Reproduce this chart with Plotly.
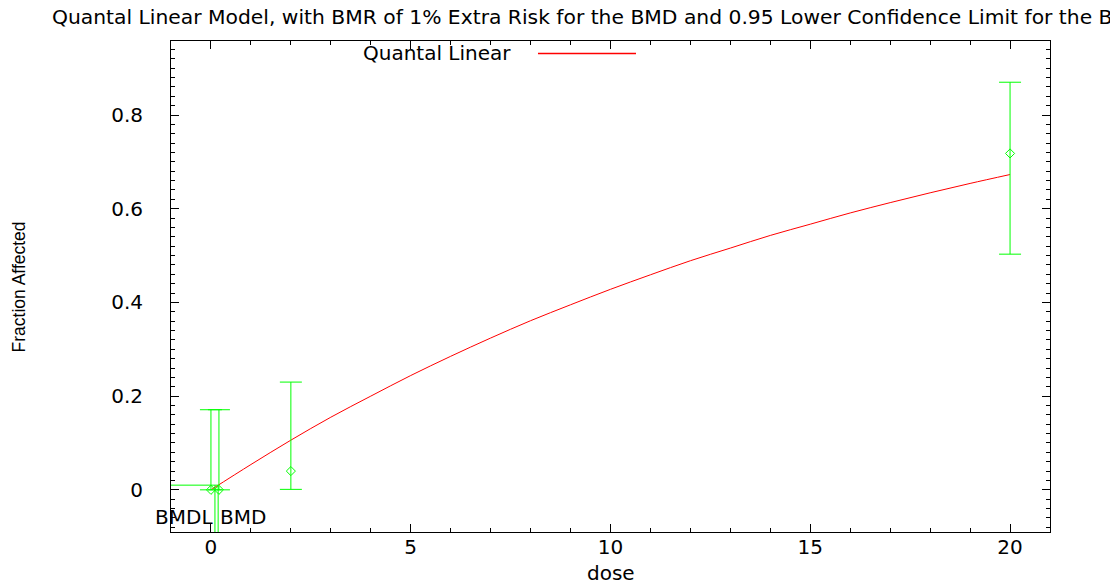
import plotly.graph_objects as go

dose = [0, 0.2, 2, 20]
frac = [0.0, 0.0, 0.04, 0.718]
ci_upper = [0.171, 0.171, 0.230, 0.870]
ci_lower = [0.0, 0.0, 0.001, 0.503]

# Fitted Quantal Linear curve
curve_dose = list(range(0, 21))
curve_frac = [0.0, 0.054, 0.106, 0.155, 0.200, 0.244, 0.285, 0.324, 0.361,
              0.395, 0.428, 0.459, 0.489, 0.516, 0.543, 0.567, 0.591, 0.613,
              0.634, 0.654, 0.673]

# Benchmark dose values
bmr_level = 0.01
bmd = 0.18
bmdl = 0.10

x_range = [-1.0, 21.0]
y_range = [-0.09, 0.958]

GREEN = "#00ff00"
RED = "#ff0000"
FONT = "DejaVu Sans"

fig = go.Figure()

# fitted curve
fig.add_trace(go.Scatter(x=curve_dose, y=curve_frac, mode="lines",
                         line=dict(color=RED, width=1, shape="spline"), name="Quantal Linear",
                         showlegend=False))

# data with confidence bars
fig.add_trace(go.Scatter(
    x=dose, y=frac, mode="markers",
    marker=dict(symbol="diamond-open", size=7, color=GREEN, line=dict(width=1, color=GREEN)),
    error_y=dict(type="data", symmetric=False,
                 array=[u - f for u, f in zip(ci_upper, frac)],
                 arrayminus=[f - l for f, l in zip(frac, ci_lower)],
                 color=GREEN, thickness=1, width=11),
    showlegend=False))

# BMD / BMDL lines
fig.add_trace(go.Scatter(x=[x_range[0], bmd], y=[bmr_level, bmr_level], mode="lines",
                         line=dict(color=GREEN, width=1), showlegend=False))
fig.add_trace(go.Scatter(x=[bmdl, bmdl], y=[bmr_level, y_range[0]], mode="lines",
                         line=dict(color=GREEN, width=1), showlegend=False))
fig.add_trace(go.Scatter(x=[bmd, bmd], y=[bmr_level, y_range[0]], mode="lines",
                         line=dict(color=GREEN, width=1), showlegend=False))

axis_common = dict(showgrid=False, zeroline=False, showline=True, linecolor="black",
                   linewidth=1, mirror="allticks", ticks="inside", ticklen=8,
                   tickcolor="black", tickfont=dict(family=FONT, size=20, color="black"))

fig.update_xaxes(range=x_range, tickmode="linear", tick0=0, dtick=5,
                 minor=dict(dtick=1, ticks="inside", ticklen=4, tickcolor="black", showgrid=False),
                 ticklabelstandoff=-3, **axis_common)
fig.update_yaxes(range=y_range, tickmode="linear", tick0=0, dtick=0.2,
                 minor=dict(dtick=0.02, ticks="inside", ticklen=4, tickcolor="black", showgrid=False),
                 ticklabelstandoff=23, **axis_common)

annotations = [
    dict(text="BMDL", x=bmdl, y=-0.058, xref="x", yref="y", xanchor="right",
         yanchor="middle", showarrow=False, font=dict(family=FONT, size=20, color="black")),
    dict(text="BMD", x=bmd, y=-0.058, xref="x", yref="y", xanchor="left",
         yanchor="middle", showarrow=False, font=dict(family=FONT, size=20, color="black")),
    dict(text="dose", x=0.5, y=-0.0835, xref="paper", yref="paper", xanchor="center",
         yanchor="middle", showarrow=False, font=dict(family=FONT, size=20, color="black")),
    dict(text="Fraction Affected", x=-0.173, y=0.5, xref="paper", yref="paper",
         xanchor="center", yanchor="middle", textangle=-90, showarrow=False,
         font=dict(family="Liberation Sans", size=17.5, color="black")),
    dict(text="Quantal Linear", x=0.389, y=0.9756, xref="paper", yref="paper",
         xanchor="right", yanchor="middle", showarrow=False,
         font=dict(family=FONT, size=20, color="black")),
]

# the page places the figure 8px in from the top-left corner
fig.update_layout(
    width=1110, height=574,
    margin=dict(l=163, r=68, t=33, b=50),
    plot_bgcolor="white", paper_bgcolor="white",
    title=dict(text="Quantal Linear Model, with BMR of 1% Extra Risk for the BMD and 0.95 Lower Confidence Limit for the BMDL",
               x=44 / 1110, xanchor="left", xref="container", y=1 - 9 / 574, yanchor="middle",
               font=dict(family=FONT, size=20.3, color="black")),
    annotations=annotations,
    shapes=[dict(type="line", xref="paper", yref="paper", x0=0.4175, x1=0.529,
                 y0=0.9745, y1=0.9745, layer="above",
                 line=dict(color="red", width=1.3))],
    showlegend=False,
)

fig.write_html("out.html", config={"displayModeBar": False})
